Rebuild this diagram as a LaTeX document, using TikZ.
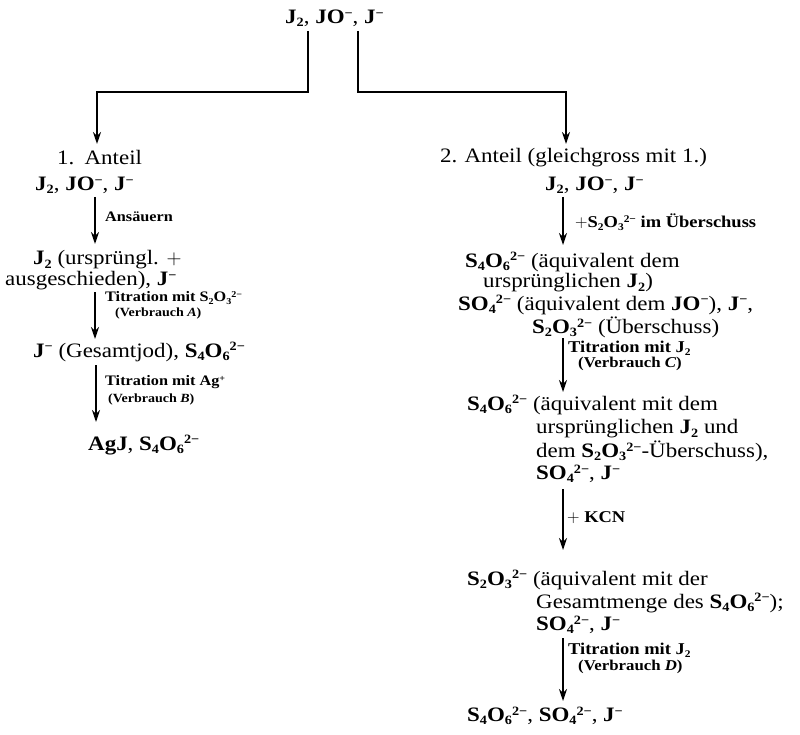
\documentclass[tikz,border=0pt]{standalone}
\usepackage{graphicx}
\usepackage{fontspec}
\setmainfont[FakeStretch=1.12]{Liberation Serif}
\usetikzlibrary{arrows.meta}
\newcommand{\chsub}[1]{\raisebox{-0.35ex}{\scalebox{0.62}{#1}}}
\newcommand{\chsup}[1]{\raisebox{0.65ex}{\scalebox{0.62}{#1}}}
\newcommand{\fJz}{\textbf{J\chsub{2}}}
\newcommand{\fJO}{\textbf{JO\chsup{−}}}
\newcommand{\fJm}{\textbf{J\chsup{−}}}
\newcommand{\fSzO}{\textbf{S\chsub{2}O\chsub{3}\chsup{2−}}}
\newcommand{\fSvO}{\textbf{S\chsub{4}O\chsub{6}\chsup{2−}}}
\newcommand{\fSO}{\textbf{SO\chsub{4}\chsup{2−}}}
\begin{document}
\begin{tikzpicture}[x=1pt,y=-1pt,
  txt/.style={anchor=west,inner sep=0pt,font=\fontsize{20.5}{24}\selectfont},
  lbl/.style={anchor=west,inner sep=0pt,font=\fontsize{14.5}{16}\selectfont\bfseries},
  lbls/.style={anchor=west,inner sep=0pt,font=\fontsize{12.5}{14}\selectfont\bfseries},
  lblr/.style={anchor=west,inner sep=0pt,font=\fontsize{16.5}{18}\selectfont\bfseries},
  lblrs/.style={anchor=west,inner sep=0pt,font=\fontsize{15}{17}\selectfont\bfseries},
  arr/.style={line width=1.4pt,-{Stealth[length=12pt,width=8pt]}},
  br/.style={line width=1.8pt,-{Stealth[length=12pt,width=8pt]}}]
\useasboundingbox[fill=white] (0,0) rectangle (800,735);

% top and branch
\node[txt] (top) at (285,18) {\fJz, \fJO, \fJm};
\coordinate (bl1) at (308,31);
\coordinate (bl2) at (308,92);
\coordinate (bl3) at (97,92);
\coordinate (bl4) at (97,144);
\coordinate (br1) at (358,31);
\coordinate (br2) at (358,92);
\coordinate (br3) at (566,92);
\coordinate (br4) at (566,144);
\draw[br] (bl1) -- (bl2) -- (bl3) -- (bl4);
\draw[br] (br1) -- (br2) -- (br3) -- (br4);
\node[txt] (p1) at (57,158) {1.\hspace{0.5em}Anteil};
\node[txt] (p2) at (440,158) {2.\hspace{0.35em}Anteil (gleichgross mit 1.)};

% left column
\node[txt] (l1) at (35,185) {\fJz, \fJO, \fJm};
\coordinate (la1) at (95,197);
\coordinate (la1e) at (95,244);
\draw[arr] (la1) -- (la1e);
\node[lbl] (ll1) at (105,217) {Ansäuern};
\node[txt] (l2a) at (33,260) {\fJz{} (ursprüngl. $+$};
\node[txt] (l2b) at (5,281) {ausgeschieden), \fJm};
\coordinate (la2) at (95,292);
\coordinate (la2e) at (95,339);
\draw[arr] (la2) -- (la2e);
\node[lbl] (ll2a) at (105,298) {Titration mit S\chsub{2}O\chsub{3}\chsup{2−}};
\node[lbls] (ll2b) at (115,313) {(Verbrauch \textit{A})};
\node[txt] (l3) at (33,352) {\fJm{} (Gesamtjod), \fSvO};
\coordinate (la3) at (96,365);
\coordinate (la3e) at (96,422);
\draw[arr] (la3) -- (la3e);
\node[lbl] (ll3a) at (105,382) {Titration mit Ag\chsup{+}};
\node[lbls] (ll3b) at (108,399) {(Verbrauch \textit{B})};
\node[txt] (l4) at (88,445) {\textbf{AgJ}, \fSvO};

% right column
\node[txt] (r1) at (545,185) {\fJz, \fJO, \fJm};
\coordinate (ra1) at (563,197);
\coordinate (ra1e) at (563,245);
\draw[arr] (ra1) -- (ra1e);
\node[lblr] (rl1) at (575,222) {$+$S\chsub{2}O\chsub{3}\chsup{2−} im Überschuss};
\node[txt] (r2a) at (465,262) {\fSvO{} (äquivalent dem};
\node[txt] (r2b) at (483,283) {ursprünglichen \fJz)};
\node[txt] (r2c) at (458,305) {\fSO{} (äquivalent dem \fJO), \fJm,};
\node[txt] (r2d) at (532,327) {\fSzO{} (Überschuss)};
\coordinate (ra2) at (563,338);
\coordinate (ra2e) at (563,392);
\draw[arr] (ra2) -- (ra2e);
\node[lblr] (rl2a) at (568,348) {Titration mit J\chsub{2}};
\node[lblrs] (rl2b) at (578,364) {(Verbrauch \textit{C})};
\node[txt] (r3a) at (467,405) {\fSvO{} (äquivalent mit dem};
\node[txt] (r3b) at (536,429) {ursprünglichen \fJz{} und};
\node[txt] (r3c) at (536,451) {dem \fSzO-Überschuss),};
\node[txt] (r3d) at (536,474) {\fSO, \fJm};
\coordinate (ra3) at (563,489);
\coordinate (ra3e) at (563,550);
\draw[arr] (ra3) -- (ra3e);
\node[lblr] (rl3) at (567,518) {$+$ KCN};
\node[txt] (r4a) at (467,580) {\fSzO{} (äquivalent mit der};
\node[txt] (r4b) at (536,603) {Gesamtmenge des \fSvO);};
\node[txt] (r4c) at (536,625) {\fSO, \fJm};
\coordinate (ra4) at (563,638);
\coordinate (ra4e) at (563,701);
\draw[arr] (ra4) -- (ra4e);
\node[lblr] (rl4a) at (568,650) {Titration mit J\chsub{2}};
\node[lblrs] (rl4b) at (578,667) {(Verbrauch \textit{D})};
\node[txt] (r5) at (467,716) {\fSvO, \fSO, \fJm};
\end{tikzpicture}
\end{document}
